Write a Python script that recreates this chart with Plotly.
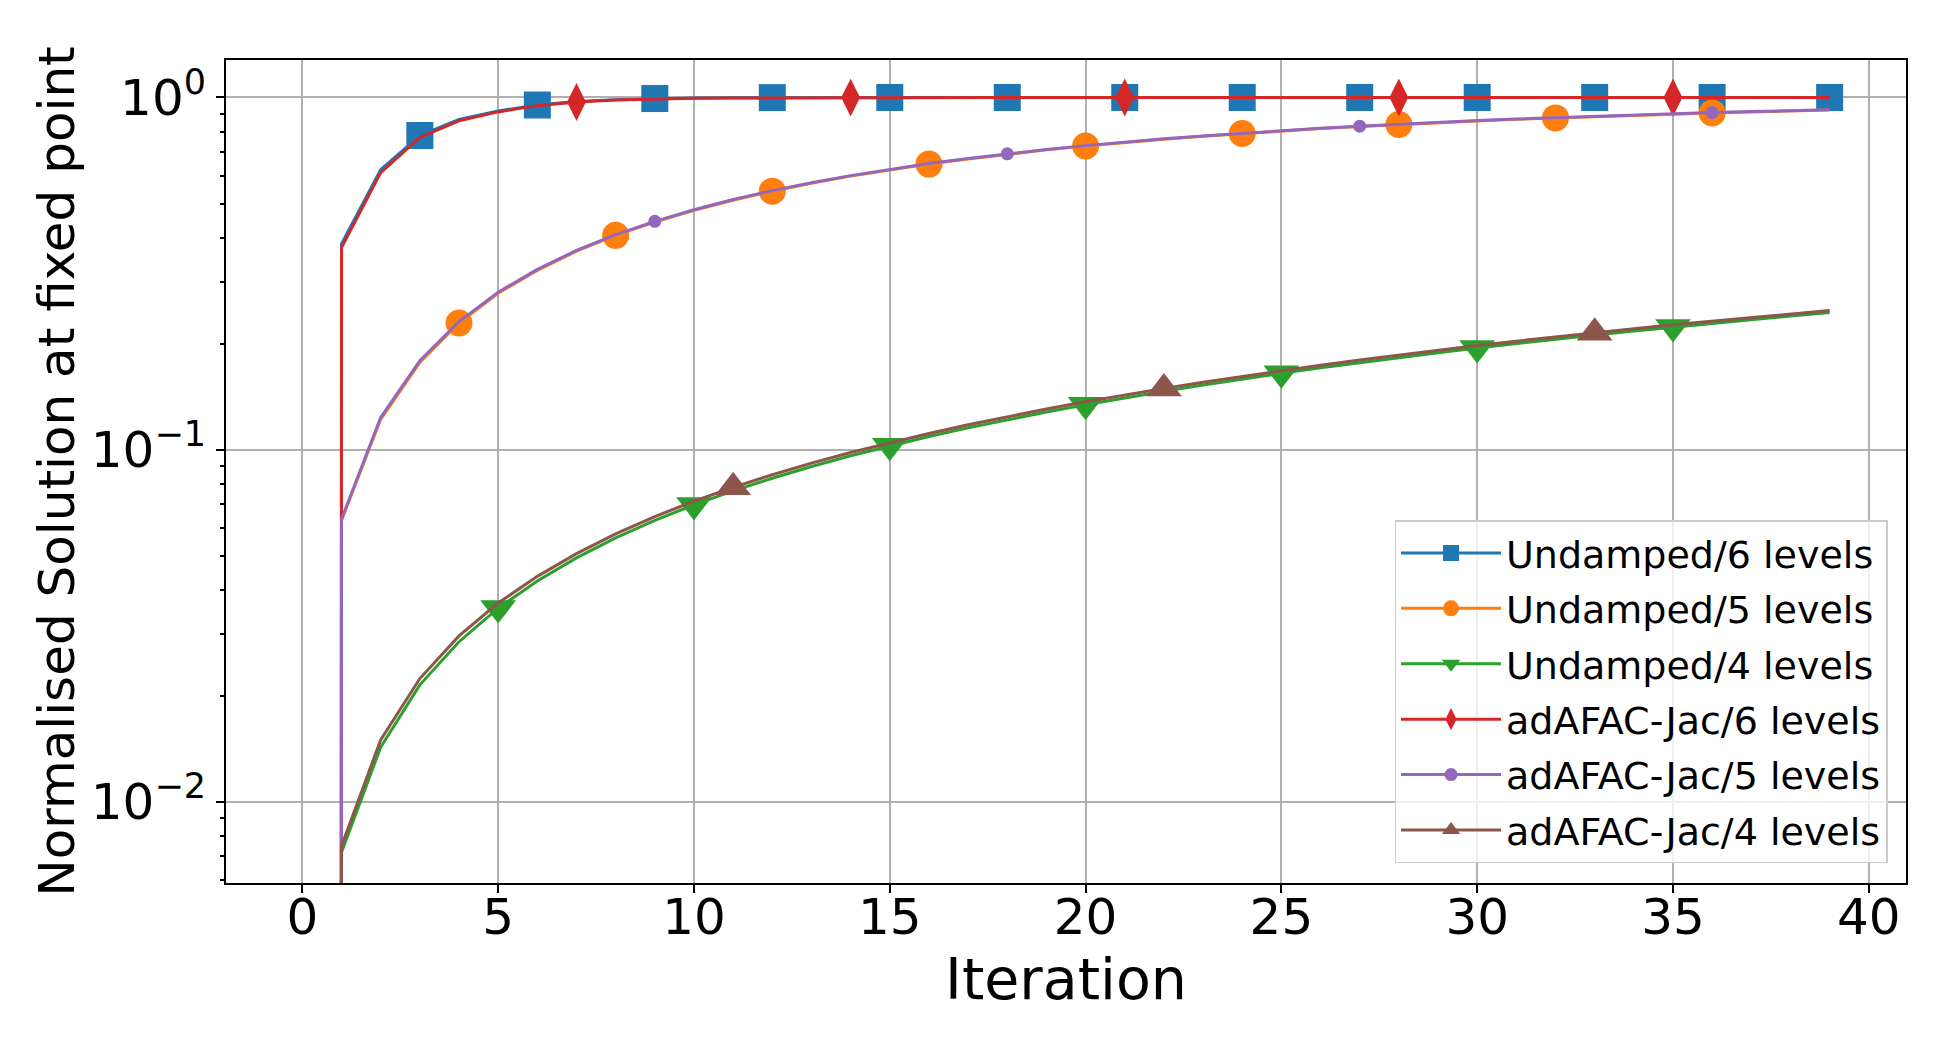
import numpy as np
import plotly.graph_objects as go

iterations = list(range(40))

undamped_6 = [0.0, 0.384, 0.624, 0.780, 0.866, 0.916, 0.952, 0.974, 0.986, 0.993,
              0.996, 0.998, 0.999, 0.9995, 1.0, 1.0, 1.0, 1.0, 1.0, 1.0,
              1.0, 1.0, 1.0, 1.0, 1.0, 1.0, 1.0, 1.0, 1.0, 1.0,
              1.0, 1.0, 1.0, 1.0, 1.0, 1.0, 1.0, 1.0, 1.0, 1.0]
undamped_5 = [0.0, 0.063, 0.122, 0.177, 0.229, 0.278, 0.323, 0.366, 0.406, 0.443,
              0.478, 0.511, 0.542, 0.571, 0.598, 0.623, 0.647, 0.669, 0.690, 0.710,
              0.728, 0.745, 0.761, 0.776, 0.790, 0.803, 0.816, 0.827, 0.838, 0.848,
              0.858, 0.867, 0.875, 0.883, 0.891, 0.897, 0.904, 0.910, 0.916, 0.921]
undamped_4 = [0.0, 0.0072, 0.0143, 0.0215, 0.0285, 0.0355, 0.0424, 0.0493, 0.0562, 0.0630,
              0.0697, 0.0764, 0.0830, 0.0896, 0.0961, 0.1026, 0.1090, 0.1154, 0.1217, 0.1280,
              0.1342, 0.1405, 0.1466, 0.1527, 0.1588, 0.1648, 0.1708, 0.1768, 0.1827, 0.1886,
              0.1944, 0.2002, 0.2060, 0.2117, 0.2174, 0.2230, 0.2286, 0.2341, 0.2397, 0.2451]
adafac_6 = [0.0, 0.375, 0.612, 0.770, 0.858, 0.910, 0.948, 0.971, 0.984, 0.991,
            0.995, 0.997, 0.998, 0.999, 0.9995, 1.0, 1.0, 1.0, 1.0, 1.0,
            1.0, 1.0, 1.0, 1.0, 1.0, 1.0, 1.0, 1.0, 1.0, 1.0,
            1.0, 1.0, 1.0, 1.0, 1.0, 1.0, 1.0, 1.0, 1.0, 1.0]
adafac_5 = [0.0, 0.0635, 0.1235, 0.179, 0.231, 0.280, 0.325, 0.368, 0.408, 0.445,
            0.480, 0.513, 0.544, 0.573, 0.600, 0.625, 0.649, 0.671, 0.692, 0.712,
            0.730, 0.747, 0.763, 0.778, 0.792, 0.805, 0.818, 0.829, 0.840, 0.850,
            0.860, 0.869, 0.877, 0.885, 0.893, 0.899, 0.906, 0.912, 0.918, 0.923]
adafac_4 = [0.0, 0.0075, 0.0150, 0.0224, 0.0296, 0.0367, 0.0437, 0.0507, 0.0577, 0.0646,
            0.0714, 0.0782, 0.0849, 0.0916, 0.0982, 0.1047, 0.1112, 0.1177, 0.1241, 0.1305,
            0.1368, 0.1431, 0.1493, 0.1555, 0.1616, 0.1677, 0.1738, 0.1798, 0.1857, 0.1916,
            0.1975, 0.2033, 0.2091, 0.2148, 0.2205, 0.2262, 0.2318, 0.2374, 0.2429, 0.2484]

series_names = ["Undamped/6 levels", "Undamped/5 levels", "Undamped/4 levels",
                "adAFAC-Jac/6 levels", "adAFAC-Jac/5 levels", "adAFAC-Jac/4 levels"]
series_values = [undamped_6, undamped_5, undamped_4, adafac_6, adafac_5, adafac_4]
mark_every = [3, 4, 5, 7, 9, 11]

colors = ["#1f77b4", "#ff7f0e", "#2ca02c", "#d62728", "#9467bd", "#8c564b"]
symbols = ["square", "circle", "triangle-down", "diamond-tall", "circle", "triangle-up"]
msizes = [27, 27, 31, 27, 13, 31]

FONT = "DejaVu Sans"
fig = go.Figure()

for name, vals, k, c, sym, ms in zip(series_names, series_values, mark_every, colors, symbols, msizes):
    y = np.asarray(vals, dtype=float)
    # emulate matplotlib's log-scale clipping of non-positive values
    y_plot = np.where(y > 0, y, 1e-300)
    sizes = [ms if (i % k == 0 and i > 0) else 0 for i in iterations]
    fig.add_trace(go.Scatter(
        x=iterations, y=y_plot, mode="lines+markers", name=name, showlegend=False,
        line=dict(color=c, width=3),
        marker=dict(symbol=sym, size=sizes, color=c, opacity=1, line=dict(width=0)),
        hoverinfo="skip"))

for name, c, sym, ms in zip(series_names, colors, symbols, msizes):
    fig.add_trace(go.Scatter(
        x=[None], y=[None], mode="lines+markers", name=name, legendgroup=name,
        line=dict(color=c, width=3),
        marker=dict(symbol=sym, size=ms, color=c, opacity=1, line=dict(width=0))))

minor_vals = [m * 10.0 ** e for e in (-3, -2, -1) for m in range(2, 10)]

fig.update_layout(
    width=1950, height=1050,
    margin=dict(l=226, r=44, t=60, b=167),
    paper_bgcolor="white", plot_bgcolor="white",
    font=dict(family=FONT, color="black"),
    showlegend=True,
    legend=dict(
        x=0.989, y=0.024, xanchor="right", yanchor="bottom",
        bgcolor="rgba(255,255,255,0.8)", bordercolor="#cccccc", borderwidth=1.5,
        font=dict(size=38, family=FONT), itemsizing="trace", itemwidth=100,
        tracegroupgap=3),
    xaxis=dict(
        range=[-1.95, 40.95], tick0=0, dtick=5,
        showgrid=True, gridcolor="#b0b0b0", gridwidth=1.5,
        showline=True, linecolor="black", linewidth=2, mirror=True,
        ticks="outside", ticklen=8, tickwidth=2, tickcolor="black",
        tickfont=dict(size=50, family=FONT), ticklabelstandoff=-19,
        zeroline=False,
        title=dict(text="Iteration", font=dict(size=57, family=FONT), standoff=0)),
    yaxis=dict(
        type="log", range=[-2.2302, 0.1064],
        tickvals=[0.01, 0.1, 1],
        ticktext=["10<sup>−2</sup>", "10<sup>−1</sup>", "10<sup>0</sup>"],
        showgrid=True, gridcolor="#b0b0b0", gridwidth=1.5,
        showline=True, linecolor="black", linewidth=2, mirror=True,
        ticks="outside", ticklen=8, tickwidth=2, tickcolor="black",
        tickfont=dict(size=50, family=FONT),
        minor=dict(tickvals=minor_vals, ticks="outside", ticklen=4, tickwidth=1.5,
                   tickcolor="black", showgrid=False),
        zeroline=False,
        title=dict(text="Normalised Solution at fixed point", font=dict(size=50, family=FONT), standoff=0)),
)

fig.write_html("out.html")
